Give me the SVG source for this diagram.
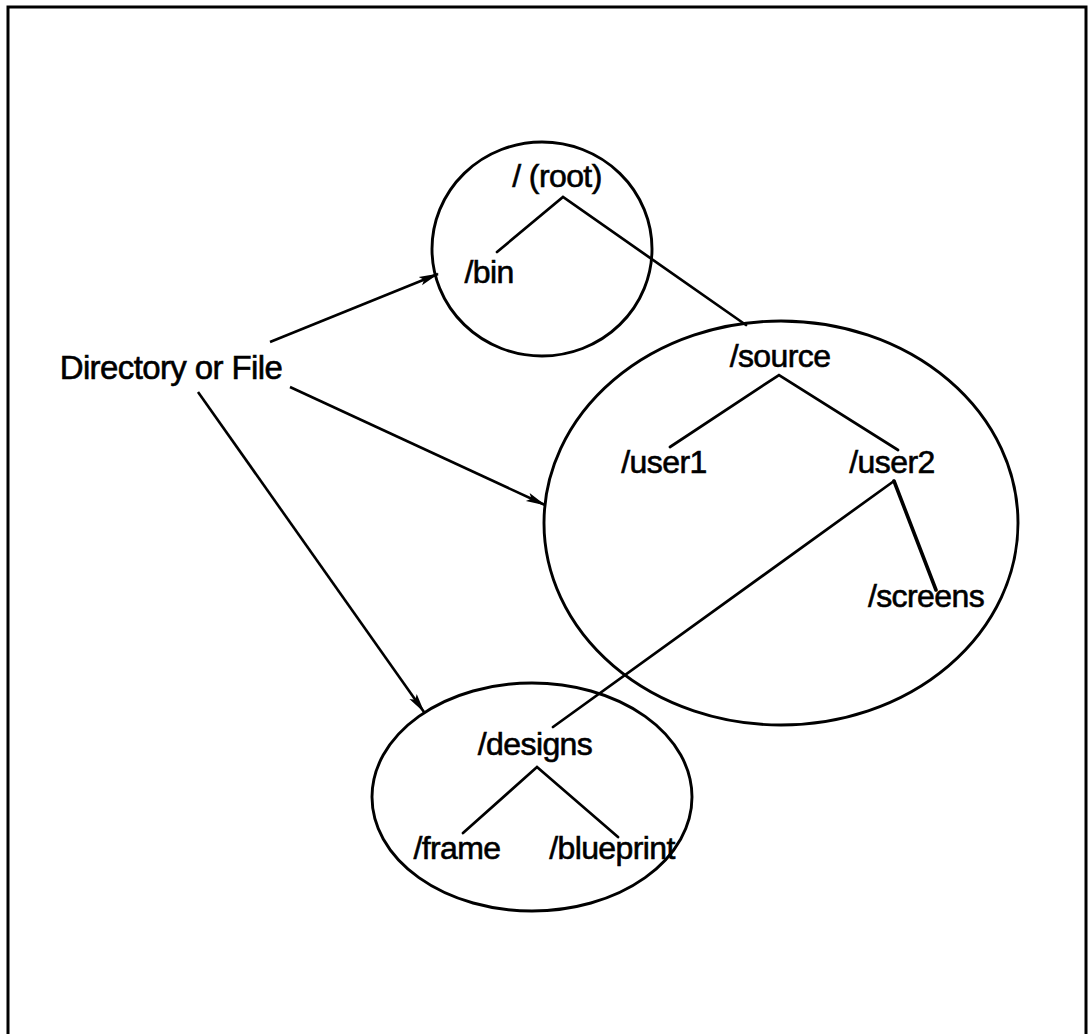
<svg xmlns="http://www.w3.org/2000/svg" width="1089" height="1034" viewBox="0 0 1089 1034">
  <style>
    .ring { fill: none; stroke: #000; stroke-width: 2.9; }
    .edge { fill: none; stroke: #000; stroke-width: 2.7; stroke-linecap: round; }
    .ptr { fill: none; stroke: #000; stroke-width: 2.6; marker-end: url(#head); }
    .lbl { font-family: "Liberation Sans", Arial, sans-serif; font-size: 32px; letter-spacing: -0.6px; fill: #000; stroke: #000; stroke-width: 0.6; text-anchor: middle; }
  </style>
  <defs>
    <marker id="head" markerUnits="userSpaceOnUse" markerWidth="20" markerHeight="12" viewBox="0 0 20 12" refX="19" refY="6" orient="auto">
      <path d="M0,1.5 L20,6 L0,10.5 L4,6 Z" fill="#000"/>
    </marker>
  </defs>

  <rect width="1089" height="1034" fill="#fff"/>
  <!-- frame -->
  <rect x="8" y="7" width="1078" height="1040" fill="none" stroke="#000" stroke-width="3"/>

  <!-- tree connectors and pointer arrows -->
  <g id="connectors">
    <path class="edge" d="M497,252 L563,197 L746,325"/>
    <path class="edge" d="M670,447 L779,375 L898,450"/>
    <path class="edge" d="M553,727 L894,481"/>
    <path class="edge" d="M894,481 L936,590" style="stroke-width:3.6"/>
    <path class="edge" d="M463,833 L537,767 L618,837"/>
    <line class="ptr" x1="270" y1="342" x2="438" y2="274"/>
    <line class="ptr" x1="290" y1="387" x2="545" y2="505"/>
    <line class="ptr" x1="198" y1="392" x2="424" y2="712"/>
  </g>

  <g id="root-area">
    <ellipse class="ring" cx="542" cy="249" rx="110" ry="107"/>
  </g>
  <g id="source-area">
    <ellipse class="ring" cx="781" cy="523" rx="237" ry="202"/>
  </g>
  <g id="designs-area">
    <ellipse class="ring" cx="532" cy="797" rx="160" ry="114"/>
  </g>

  <g id="label"><text class="lbl" x="171" y="379" style="font-size:33px">Directory or File</text></g>
  <g id="root"><text class="lbl" x="557" y="187">/ (root)</text></g>
  <g id="bin"><text class="lbl" x="489" y="283">/bin</text></g>
  <g id="source"><text class="lbl" x="780" y="367">/source</text></g>
  <g id="user1"><text class="lbl" x="664" y="473">/user1</text></g>
  <g id="user2"><text class="lbl" x="892" y="473">/user2</text></g>
  <g id="screens"><text class="lbl" x="926" y="607">/screens</text></g>
  <g id="designs"><text class="lbl" x="535" y="755">/designs</text></g>
  <g id="frame"><text class="lbl" x="457" y="859">/frame</text></g>
  <g id="blueprint"><text class="lbl" x="612" y="859">/blueprint</text></g>
</svg>
